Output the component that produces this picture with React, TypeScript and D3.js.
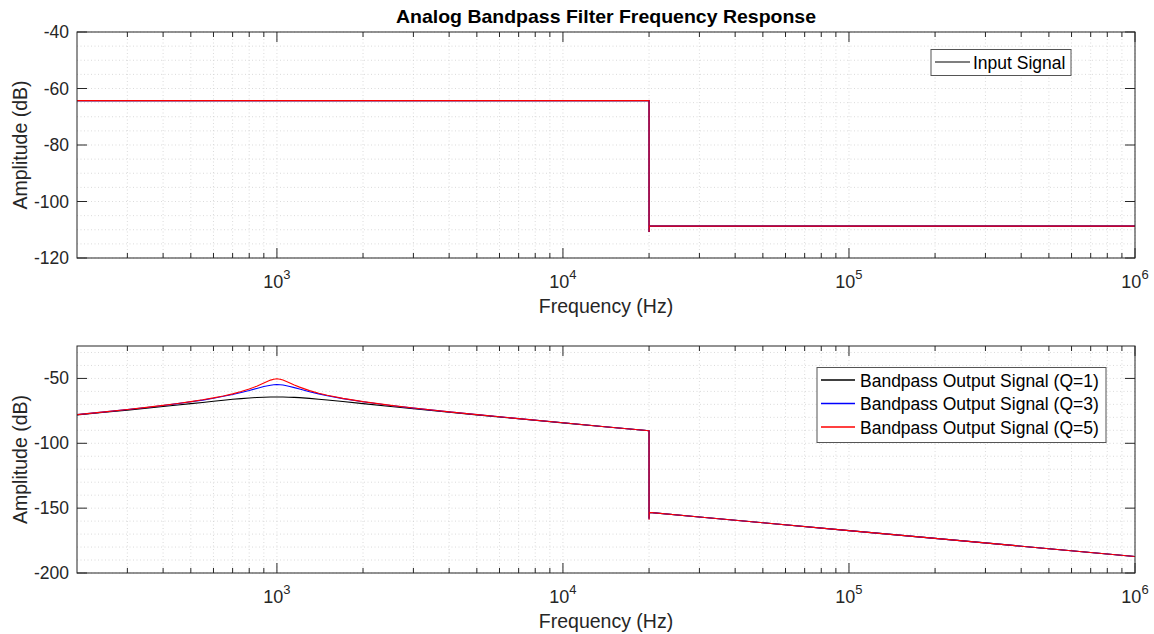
import React from 'react';
import * as d3 from 'd3';

// top panel: input signal spectrum
const inputFreq = [200, 20000, 20000, 20050, 1000000];
const inputDb = [-64.3, -64.3, -110.8, -108.7, -108.7];

// bottom panel: bandpass outputs
const bpFreq = [
  200, 250, 300, 350, 400, 450, 500, 550, 600, 650,
  700, 750, 800, 850, 900, 950, 975, 1000, 1025, 1050,
  1100, 1150, 1200, 1300, 1400, 1500, 1700, 2000, 2500, 3000,
  4000, 5000, 7000, 10000, 14000, 20000, 20000, 20050, 30000, 50000,
  100000, 200000, 500000, 1000000,
];
const q1Db = [
  -78.1, -76.1, -74.4, -72.9, -71.6, -70.5, -69.4, -68.5, -67.6, -66.8,
  -66.1, -65.6, -65.1, -64.7, -64.5, -64.3, -64.3, -64.3, -64.3, -64.3,
  -64.5, -64.6, -64.8, -65.4, -66.0, -66.6, -67.8, -69.4, -71.6, -73.4,
  -76.1, -78.1, -81.1, -84.3, -87.2, -90.3, -158, -153.3, -156.8, -161.3,
  -167.3, -173.3, -181.3, -187.3,
];
const q3Db = [
  -77.9, -75.8, -74.0, -72.4, -70.9, -69.4, -68.0, -66.7, -65.3, -63.8,
  -62.4, -60.8, -59.3, -57.7, -56.2, -55.2, -54.9, -54.8, -54.9, -55.1,
  -56.0, -57.1, -58.2, -60.2, -61.9, -63.4, -65.6, -68.0, -70.9, -72.9,
  -75.8, -77.9, -81.0, -84.2, -87.2, -90.3, -158.5, -153.3, -156.8, -161.3,
  -167.3, -173.3, -181.3, -187.3,
];
const q5Db = [
  -77.9, -75.8, -74.0, -72.3, -70.8, -69.3, -67.9, -66.5, -65.0, -63.5,
  -61.9, -60.1, -58.1, -56.0, -53.6, -51.3, -50.6, -50.3, -50.6, -51.2,
  -53.1, -55.0, -56.7, -59.4, -61.4, -63.0, -65.4, -67.9, -70.8, -72.8,
  -75.8, -77.9, -81.0, -84.2, -87.2, -90.3, -159, -153.3, -156.8, -161.3,
  -167.3, -173.3, -181.3, -187.3,
];

const xMajor = [1000, 10000, 100000, 1000000];
const xExp = ['3', '4', '5', '6'];
const topYTicks = [-40, -60, -80, -100, -120];
const botYTicks = [-50, -100, -150, -200];
const bpLabels = ['Bandpass Output Signal (Q=1)', 'Bandpass Output Signal (Q=3)', 'Bandpass Output Signal (Q=5)'];
const colors = ['#000000', '#0000ff', '#ff0000'];

const W = 1154, H = 634;
const left = 77, right = 1135;
const font = '"Liberation Sans", Arial, Helvetica, sans-serif';
const axisCol = '#262626';

const x = d3.scaleLog().domain([200, 1e6]).range([left, right]);

const minorX: number[] = [];
[100, 1000, 10000, 100000].forEach(dec => {
  for (let k = 2; k <= 9; k++) {
    const v = dec * k;
    if (v > 200 && v < 1e6 && xMajor.indexOf(v) < 0) minorX.push(v);
  }
});

function Panel({ top, bottom, yDomain, yTicks, minorStep, series, id }: any) {
  const y = d3.scaleLinear().domain(yDomain).range([bottom, top]);
  const line = d3.line<[number, number]>().x(d => x(d[0])).y(d => y(d[1]));
  const minorY = d3.range(yDomain[0], yDomain[1] + 0.001, minorStep);
  const gridCol = '#d2d2d2';
  return (
    <g>
      <clipPath id={id}>
        <rect x={left} y={top} width={right - left} height={bottom - top} />
      </clipPath>
      <rect x={left} y={top} width={right - left} height={bottom - top} fill="#fff" />
      {/* grid */}
      {minorX.concat(xMajor).map(v => (
        <line key={'gx' + v} x1={x(v)} x2={x(v)} y1={top} y2={bottom}
          stroke={gridCol} strokeWidth={0.8} strokeDasharray="1,2.5" />
      ))}
      {minorY.map(v => (
        <line key={'gy' + v} x1={left} x2={right} y1={y(v)} y2={y(v)}
          stroke={gridCol} strokeWidth={0.8} strokeDasharray="1,2.5" />
      ))}
      {/* data */}
      <g clipPath={`url(#${id})`}>
        {series.map((s: any, i: number) => (
          <path key={i} d={line(s.f.map((f: number, j: number) => [f, s.v[j]]) as any) || ''}
            fill="none" stroke={s.c} strokeWidth={1.1} />
        ))}
      </g>
      {/* box + ticks */}
      <rect x={left} y={top} width={right - left} height={bottom - top} fill="none" stroke={axisCol} strokeWidth={1} />
      {xMajor.map(v => (
        <g key={'tx' + v}>
          <line x1={x(v)} x2={x(v)} y1={bottom} y2={bottom - 10} stroke={axisCol} />
          <line x1={x(v)} x2={x(v)} y1={top} y2={top + 10} stroke={axisCol} />
        </g>
      ))}
      {minorX.map(v => (
        <g key={'mx' + v}>
          <line x1={x(v)} x2={x(v)} y1={bottom} y2={bottom - 5} stroke={axisCol} />
          <line x1={x(v)} x2={x(v)} y1={top} y2={top + 5} stroke={axisCol} />
        </g>
      ))}
      {yTicks.map((v: number) => (
        <g key={'ty' + v}>
          <line x1={left} x2={left + 10} y1={y(v)} y2={y(v)} stroke={axisCol} />
          <line x1={right} x2={right - 10} y1={y(v)} y2={y(v)} stroke={axisCol} />
          <text x={left - 8} y={y(v) + 6} textAnchor="end" fontSize={17.5} fill={axisCol}>{v}</text>
        </g>
      ))}
      {xMajor.map((v, i) => (
        <text key={'lx' + v} x={x(v)} y={bottom + 30} textAnchor="middle" fontSize={18} fill={axisCol}>
          10<tspan fontSize={13} dy={-9}>{xExp[i]}</tspan>
        </text>
      ))}
      <text x={(left + right) / 2} y={bottom + 55} textAnchor="middle" fontSize={19.5} fill={axisCol}>Frequency (Hz)</text>
      <text transform={`translate(27,${(top + bottom) / 2}) rotate(-90)`} textAnchor="middle" fontSize={19.5} fill={axisCol}>Amplitude (dB)</text>
    </g>
  );
}

export default function App() {
  const topSeries = colors.map(c => ({ f: inputFreq, v: inputDb, c }));
  const botSeries = [q1Db, q3Db, q5Db].map((v, i) => ({ f: bpFreq, v, c: colors[i] }));
  return (
    <svg width={W} height={H} style={{ position: 'absolute', left: 0, top: 0, background: '#fff' }} fontFamily={font}>
      <rect width={W} height={H} fill="#fff" />
      <text x={(left + right) / 2} y={23} textAnchor="middle" fontSize={18.5} fontWeight="bold" fill="#000"
        textLength={420} lengthAdjust="spacingAndGlyphs">Analog Bandpass Filter Frequency Response</text>
      <Panel id="clipTop" top={32} bottom={258} yDomain={[-120, -40]} yTicks={topYTicks} minorStep={5} series={topSeries} />
      <Panel id="clipBot" top={346} bottom={573} yDomain={[-200, -25]} yTicks={botYTicks} minorStep={10} series={botSeries} />

      {/* legend top */}
      <rect x={931} y={49.5} width={140} height={26} fill="#fff" stroke="#555" strokeWidth={1} />
      <line x1={935} x2={970} y1={62} y2={62} stroke="#000" strokeWidth={1.2} />
      <text x={973} y={68.5} fontSize={17.5} fill="#000">Input Signal</text>

      {/* legend bottom */}
      <rect x={817} y={367.5} width={289} height={75} fill="#fff" stroke="#555" strokeWidth={1} />
      {bpLabels.map((t, i) => (
        <g key={t}>
          <line x1={821} x2={855} y1={380 + i * 23.5} y2={380 + i * 23.5} stroke={colors[i]} strokeWidth={1.3} />
          <text x={860} y={386.5 + i * 23.5} fontSize={17.5} fill="#000">{t}</text>
        </g>
      ))}
    </svg>
  );
}
